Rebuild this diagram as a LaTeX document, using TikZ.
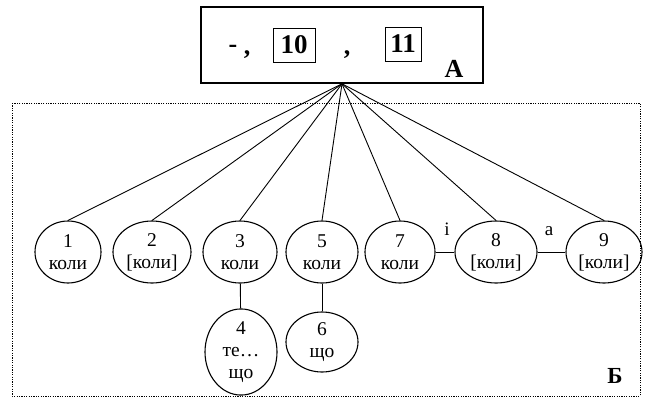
\documentclass[tikz,border=0pt]{standalone}
\usepackage{fontspec}
\setmainfont{Liberation Serif}
\usetikzlibrary{shapes.geometric}
\begin{document}
\begin{tikzpicture}[x=1pt,y=-1pt,
  el/.style={draw,line width=1.1pt,ellipse,inner sep=0pt,minimum height=62pt,align=center,font=\fontsize{19.5}{22}\selectfont},
  link/.style={line width=0.9pt},
  numbox/.style={draw,line width=0.9pt,inner sep=0pt,font=\fontsize{27}{27}\selectfont\bfseries,minimum width=42pt,minimum height=34pt},
  bigtxt/.style={anchor=base,inner sep=0pt,font=\fontsize{26}{26}\selectfont\bfseries},
  lbl/.style={anchor=base,inner sep=0pt,font=\fontsize{19}{19}\selectfont}]
\useasboundingbox (0,0) rectangle (645,405);
\draw[line width=0.6pt,dash pattern=on 1.2pt off 1.2pt] (12,103) rectangle (640,396);
\node[draw,line width=1.6pt,minimum width=282pt,minimum height=76pt] (top) at (342,45) {};
\node[bigtxt] (dash) at (233,54) {\raisebox{2pt}{-}};
\node[bigtxt] (c1) at (247,54) {,};
\node[numbox] (b10) at (294,45) {10};
\node[bigtxt] (c2) at (347,54) {,};
\node[numbox,minimum width=36pt] (b11) at (403,44) {11};
\node[bigtxt] (A) at (454,77) {А};
\node[el,minimum width=66pt] (n1) at (68,252) {1\\коли};
\node[el,minimum width=78pt] (n2) at (152,252) {2\\{}[коли]};
\node[el,minimum width=74pt] (n3) at (240,252) {3\\коли};
\node[el,minimum width=72pt] (n5) at (322,252) {5\\коли};
\node[el,minimum width=70pt] (n7) at (400,252) {7\\коли};
\node[el,minimum width=82pt] (n8) at (496,252) {8\\{}[коли]};
\node[el,minimum width=76pt] (n9) at (604,252) {9\\{}[коли]};
\node[el,minimum width=72pt,minimum height=81pt] (n4) at (241,352) {4\\те…\\що};
\node[el,minimum width=72pt,minimum height=60pt] (n6) at (322,342) {6\\що};
\foreach \n in {n1,n2,n3,n5,n7,n8,n9}
  \draw[link] (top.south) -- (\n.north);
\draw[link] (n3) -- (n4);
\draw[link] (n5) -- (n6);
\draw[link] (n7) -- (n8);
\draw[link] (n8) -- (n9);
\node[lbl] (li) at (447,235) {і};
\node[lbl] (la) at (549,235) {а};
\node[bigtxt,font=\fontsize{23}{23}\selectfont\bfseries] (B) at (615,383) {Б};
\end{tikzpicture}
\end{document}
